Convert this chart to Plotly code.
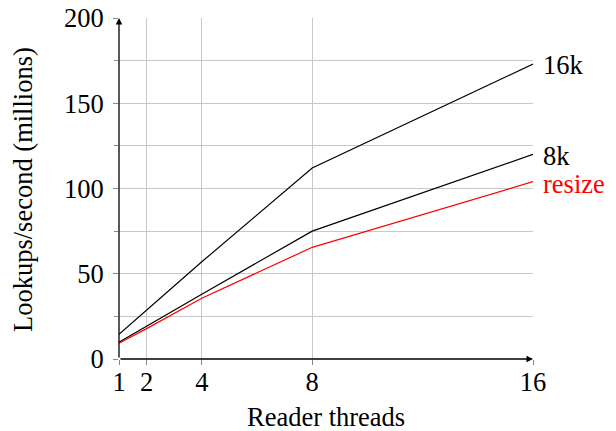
import plotly.graph_objects as go

threads = [1, 2, 4, 8, 16]
s16k = [14.5, 28.7, 57, 112, 173]
s8k = [9.8, 19.2, 38, 75, 120]
sresize = [9.2, 17.8, 35.6, 65.5, 104]
series_names = ["16k", "8k", "resize"]
series_colors = ["black", "black", "red"]
label_shift = [-1, -2, -2]
x_ticks = [1, 2, 4, 8, 16]
y_ticks = [0, 50, 100, 150, 200]
y_minor = [25, 75, 125, 175]

FONT = "Liberation Serif"
FS = 26.5
W, H = 616, 431
L, R, T, B = 119, 83, 18, 72
PW, PH = W - L - R, H - T - B

fig = go.Figure()
for name, vals, col, sh in zip(series_names, [s16k, s8k, sresize], series_colors, label_shift):
    fig.add_trace(go.Scatter(x=threads, y=vals, mode="lines", name=name,
                             line=dict(color=col, width=1.2), showlegend=False))
    fig.add_annotation(x=threads[-1], y=vals[-1], text=name, showarrow=False,
                       xanchor="left", xshift=8, yshift=sh,
                       font=dict(family=FONT, size=FS, color=col))

# axis arrows
fig.add_annotation(x=16, y=0, ax=1, ay=0, xref="x", yref="y", axref="x", ayref="y",
                   showarrow=True, arrowhead=2, arrowsize=1, arrowwidth=1.3, arrowcolor="black", text="")
fig.add_annotation(x=1, y=200, ax=1, ay=0, xref="x", yref="y", axref="x", ayref="y",
                   showarrow=True, arrowhead=2, arrowsize=1, arrowwidth=1.3, arrowcolor="black", text="")

# axis titles
fig.add_annotation(x=(23 - L) / PW, y=(H - B - 190) / PH, xref="paper", yref="paper", text="Lookups/second (millions)",
                   textangle=-90, showarrow=False, xanchor="center", yanchor="middle",
                   font=dict(family=FONT, size=FS, color="black"))
fig.add_annotation(x=(326 - L) / PW, y=(H - B - 417) / PH, xref="paper", yref="paper", text="Reader threads",
                   showarrow=False, xanchor="center", yanchor="middle",
                   font=dict(family=FONT, size=FS, color="black"))

fig.update_xaxes(range=[1, 16], tickvals=x_ticks, ticktext=[str(v) for v in x_ticks],
                 showgrid=True, gridcolor="#c8c8c8", gridwidth=1, zeroline=False,
                 showline=False, ticks="outside", ticklen=5, tickcolor="#888", automargin=False,
                 ticklabelstandoff=-6,
                 tickfont=dict(family=FONT, size=FS, color="black"))
fig.update_yaxes(range=[0, 200], tickvals=y_ticks, ticktext=[str(v) for v in y_ticks],
                 showgrid=True, gridcolor="#c8c8c8", gridwidth=1, zeroline=False,
                 showline=False, ticks="outside", ticklen=5, tickcolor="#888", automargin=False,
                 ticklabelstandoff=4,
                 minor=dict(tickvals=y_minor, showgrid=True, gridcolor="#c8c8c8", ticks="outside", ticklen=4, tickcolor="#888"),
                 tickfont=dict(family=FONT, size=FS, color="black"))

fig.update_layout(width=W, height=H, margin=dict(l=L, r=R, t=T, b=B),
                  plot_bgcolor="white", paper_bgcolor="white",
                  font=dict(family=FONT, size=FS, color="black"))
fig.write_html("out.html", config={"displayModeBar": False},
               post_script="document.body.style.margin='0';")
